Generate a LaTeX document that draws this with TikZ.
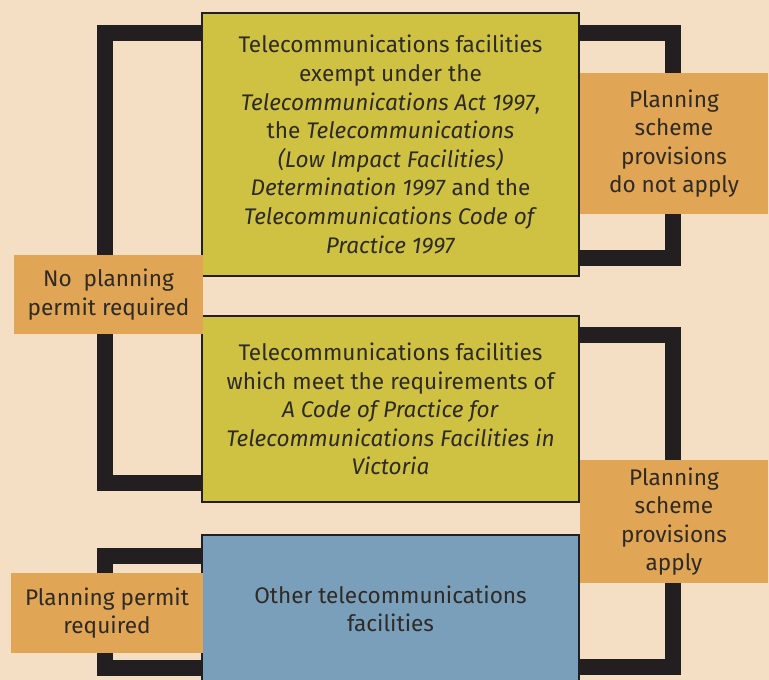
\documentclass[tikz,border=0pt]{standalone}
\usepackage{fontspec}
\setmainfont{Fira Sans}
\definecolor{bg}{HTML}{F5DFC4}
\definecolor{ybox}{HTML}{CFC243}
\definecolor{bbox}{HTML}{7A9FBB}
\definecolor{obox}{HTML}{E0A555}
\definecolor{ink}{HTML}{231F20}
\definecolor{txt}{HTML}{2E2A26}
\begin{document}
\begin{tikzpicture}[x=1pt,y=-1pt,
  mainbox/.style={draw=ink,line width=2.5pt,minimum width=377pt,align=center,inner sep=0pt,
    font=\fontsize{22.6}{28.6}\selectfont,text=txt},
  lab/.style={fill=obox,align=center,inner sep=0pt,font=\fontsize{22.6}{28.6}\selectfont,text=txt},
  bracket/.style={draw=ink,line width=16pt,line join=miter,line cap=butt}]
\useasboundingbox (0,0) rectangle (769,680);
\fill[bg] (0,0) rectangle (769,680);
\begin{scope}
\clip (0,0) rectangle (769,680);
% boxes (positions only, drawn later)
\path (390.5,144.5) node[minimum height=263pt,minimum width=377pt] (b1) {};
\path (390.5,409) node[minimum height=186pt,minimum width=377pt] (b2) {};
\path (390.5,609) node[minimum height=148pt,minimum width=377pt] (b3) {};
% brackets
\draw[bracket] ([xshift=10pt,yshift=-20pt]b1.north west) -- ++(-107,0) |- ([xshift=10pt,yshift=19pt]b2.south west);
\draw[bracket] ([xshift=-10pt,yshift=-20pt]b1.north east) -- ++(104,0) |- ([xshift=-10pt,yshift=18pt]b1.south east);
\draw[bracket] ([xshift=-10pt,yshift=-19pt]b2.north east) -- ++(104,0) |- ([xshift=-10pt,yshift=-132pt]b3.north east);
\draw[bracket] ([xshift=10pt,yshift=-21pt]b3.north west) -- ++(-107,0) |- ([xshift=10pt,yshift=-133pt]b3.north west);
% boxes
\node[mainbox,fill=ybox,minimum height=263pt] (B1) at (390.5,144.5) {Telecommunications facilities\\exempt under the\\\textit{Telecommunications Act 1997},\\the \textit{Telecommunications}\\\textit{(Low Impact Facilities)}\\\textit{Determination 1997} and the\\\textit{Telecommunications Code of}\\\textit{Practice 1997}};
\node[mainbox,fill=ybox,minimum height=186pt] (B2) at (390.5,409) {Telecommunications facilities\\which meet the requirements of\\\textit{A Code of Practice for}\\\textit{Telecommunications Facilities in}\\\textit{Victoria}};
\node[mainbox,fill=bbox,minimum height=148pt] (B3) at (390.5,609) {Other telecommunications\\facilities};
% labels
\node[lab,minimum width=189pt,minimum height=79pt] (l1) at (108.5,294.5) {No~~planning\\permit required};
\node[lab,minimum width=188pt,minimum height=141pt] (l2) at (674,143.5) {Planning\\scheme\\provisions\\do not apply};
\node[lab,minimum width=188pt,minimum height=123pt] (l3) at (674,521.5) {Planning\\scheme\\provisions\\apply};
\node[lab,minimum width=192pt,minimum height=80pt] (l4) at (107,613) {Planning permit\\required};
\end{scope}
\end{tikzpicture}
\end{document}
